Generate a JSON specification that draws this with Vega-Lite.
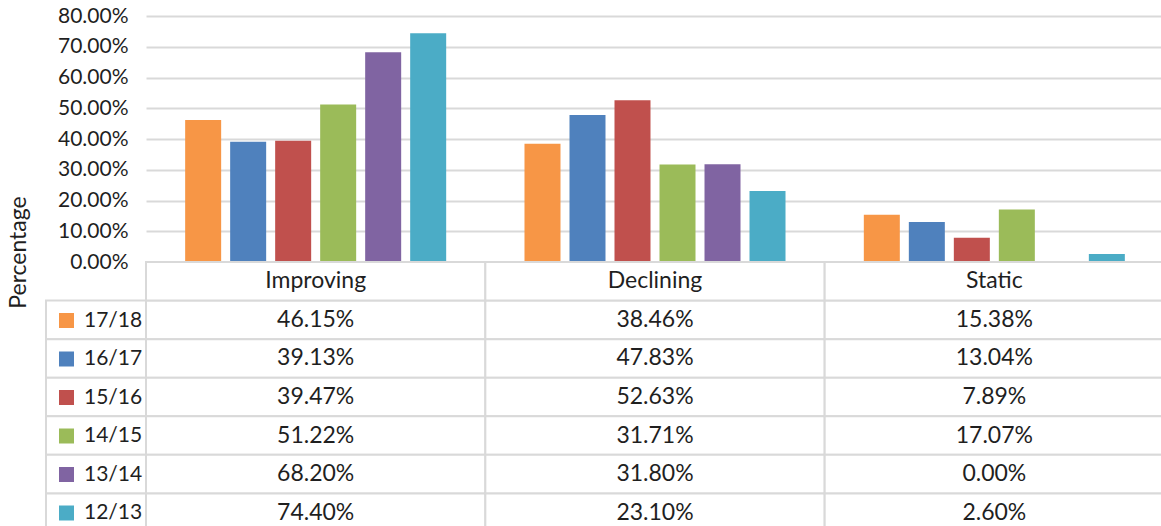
{
  "$schema": "https://vega.github.io/schema/vega-lite/v6.json",
  "background": "white",
  "padding": {"left": 7, "top": 5, "right": 0, "bottom": 0},
  "data": {
    "values": [
      {"category": "Improving", "year": "17/18", "value": 0.4615},
      {"category": "Improving", "year": "16/17", "value": 0.3913},
      {"category": "Improving", "year": "15/16", "value": 0.3947},
      {"category": "Improving", "year": "14/15", "value": 0.5122},
      {"category": "Improving", "year": "13/14", "value": 0.682},
      {"category": "Improving", "year": "12/13", "value": 0.744},
      {"category": "Declining", "year": "17/18", "value": 0.3846},
      {"category": "Declining", "year": "16/17", "value": 0.4783},
      {"category": "Declining", "year": "15/16", "value": 0.5263},
      {"category": "Declining", "year": "14/15", "value": 0.3171},
      {"category": "Declining", "year": "13/14", "value": 0.318},
      {"category": "Declining", "year": "12/13", "value": 0.231},
      {"category": "Static", "year": "17/18", "value": 0.1538},
      {"category": "Static", "year": "16/17", "value": 0.1304},
      {"category": "Static", "year": "15/16", "value": 0.0789},
      {"category": "Static", "year": "14/15", "value": 0.1707},
      {"category": "Static", "year": "13/14", "value": 0.0},
      {"category": "Static", "year": "12/13", "value": 0.026}
    ]
  },
  "columns": 2,
  "spacing": 0,
  "bounds": "flush",
  "concat": [
    {
      "width": 100,
      "height": 246,
      "mark": {"type": "text", "text": ""}
    },
    {
      "width": 1018,
      "height": 246,
      "mark": {"type": "bar"},
      "encoding": {
        "x": {
          "field": "category", "type": "nominal",
          "scale": {"domain": ["Improving", "Declining", "Static"], "paddingInner": 0, "paddingOuter": 0},
          "axis": null
        },
        "xOffset": {
          "field": "year", "type": "nominal",
          "scale": {"domain": ["17/18", "16/17", "15/16", "14/15", "13/14", "12/13"], "paddingInner": 0.2, "paddingOuter": 0.87}
        },
        "y": {
          "field": "value", "type": "quantitative",
          "scale": {"domain": [0, 0.8], "nice": false},
          "axis": {
            "values": [0, 0.1, 0.2, 0.3, 0.4, 0.5, 0.6, 0.7, 0.8],
            "format": ".2%",
            "title": "Percentage",
            "titleFont": "Lato", "titleFontSize": 23, "titleFontWeight": "normal", "titleColor": "#1f1f1f",
            "titleAngle": -90, "titleX": -128, "titleY": 236, "titleAlign": "center", "titleBaseline": "middle",
            "labelFont": "Lato", "labelFontSize": 21, "labelColor": "#1f1f1f", "labelPadding": 18,
            "domain": false, "ticks": false,
            "gridColor": "#D9D9D9", "gridWidth": 2
          }
        },
        "color": {
          "field": "year", "type": "nominal",
          "scale": {
            "domain": ["17/18", "16/17", "15/16", "14/15", "13/14", "12/13"],
            "range": ["#F79646", "#4F81BD", "#C0504D", "#9BBB59", "#8064A2", "#4BACC6"]
          },
          "legend": {
            "title": null, "orient": "none", "legendX": 10, "legendY": 294, "padding": 0,
            "symbolType": "square", "symbolSize": 225, "symbolStrokeWidth": 0, "symbolOpacity": 1,
            "labelFont": "Lato", "labelFontSize": 21, "labelColor": "#1f1f1f", "labelOffset": 7,
            "rowPadding": 16.5
          }
        }
      }
    },
    {
      "width": 100,
      "height": 270,
      "transform": [{"filter": "datum.category === 'Improving'"}],
      "mark": {"type": "rect", "fill": "white", "stroke": "#D9D9D9", "strokeWidth": 2},
      "encoding": {
        "y": {
          "field": "year", "type": "nominal",
          "scale": {"domain": ["Category", "17/18", "16/17", "15/16", "14/15", "13/14", "12/13"], "paddingInner": 0, "paddingOuter": 0},
          "axis": null
        }
      }
    },
    {
      "width": 1018,
      "height": 270,
      "encoding": {
        "x": {
          "field": "category", "type": "nominal",
          "scale": {"domain": ["Improving", "Declining", "Static"], "paddingInner": 0, "paddingOuter": 0},
          "axis": null
        },
        "y": {
          "field": "year", "type": "nominal",
          "scale": {"domain": ["Category", "17/18", "16/17", "15/16", "14/15", "13/14", "12/13"], "paddingInner": 0, "paddingOuter": 0},
          "axis": null
        }
      },
      "layer": [
        {
          "mark": {"type": "rect", "fill": "white", "stroke": "#D9D9D9", "strokeWidth": 2}
        },
        {
          "transform": [{"filter": "datum.year === '17/18'"}],
          "mark": {"type": "rect", "fill": "white", "stroke": "#D9D9D9", "strokeWidth": 2},
          "encoding": {"y": {"datum": "Category"}}
        },
        {
          "mark": {"type": "text", "font": "Lato", "fontSize": 23, "color": "#1f1f1f", "align": "center", "baseline": "middle"},
          "encoding": {"text": {"field": "value", "type": "quantitative", "format": ".2%"}}
        },
        {
          "transform": [{"filter": "datum.year === '17/18'"}],
          "mark": {"type": "text", "font": "Lato", "fontSize": 23, "color": "#1f1f1f", "align": "center", "baseline": "middle"},
          "encoding": {"y": {"datum": "Category"}, "text": {"field": "category", "type": "nominal"}}
        }
      ]
    }
  ],
  "config": {"view": {"stroke": null}, "font": "Lato"}
}
